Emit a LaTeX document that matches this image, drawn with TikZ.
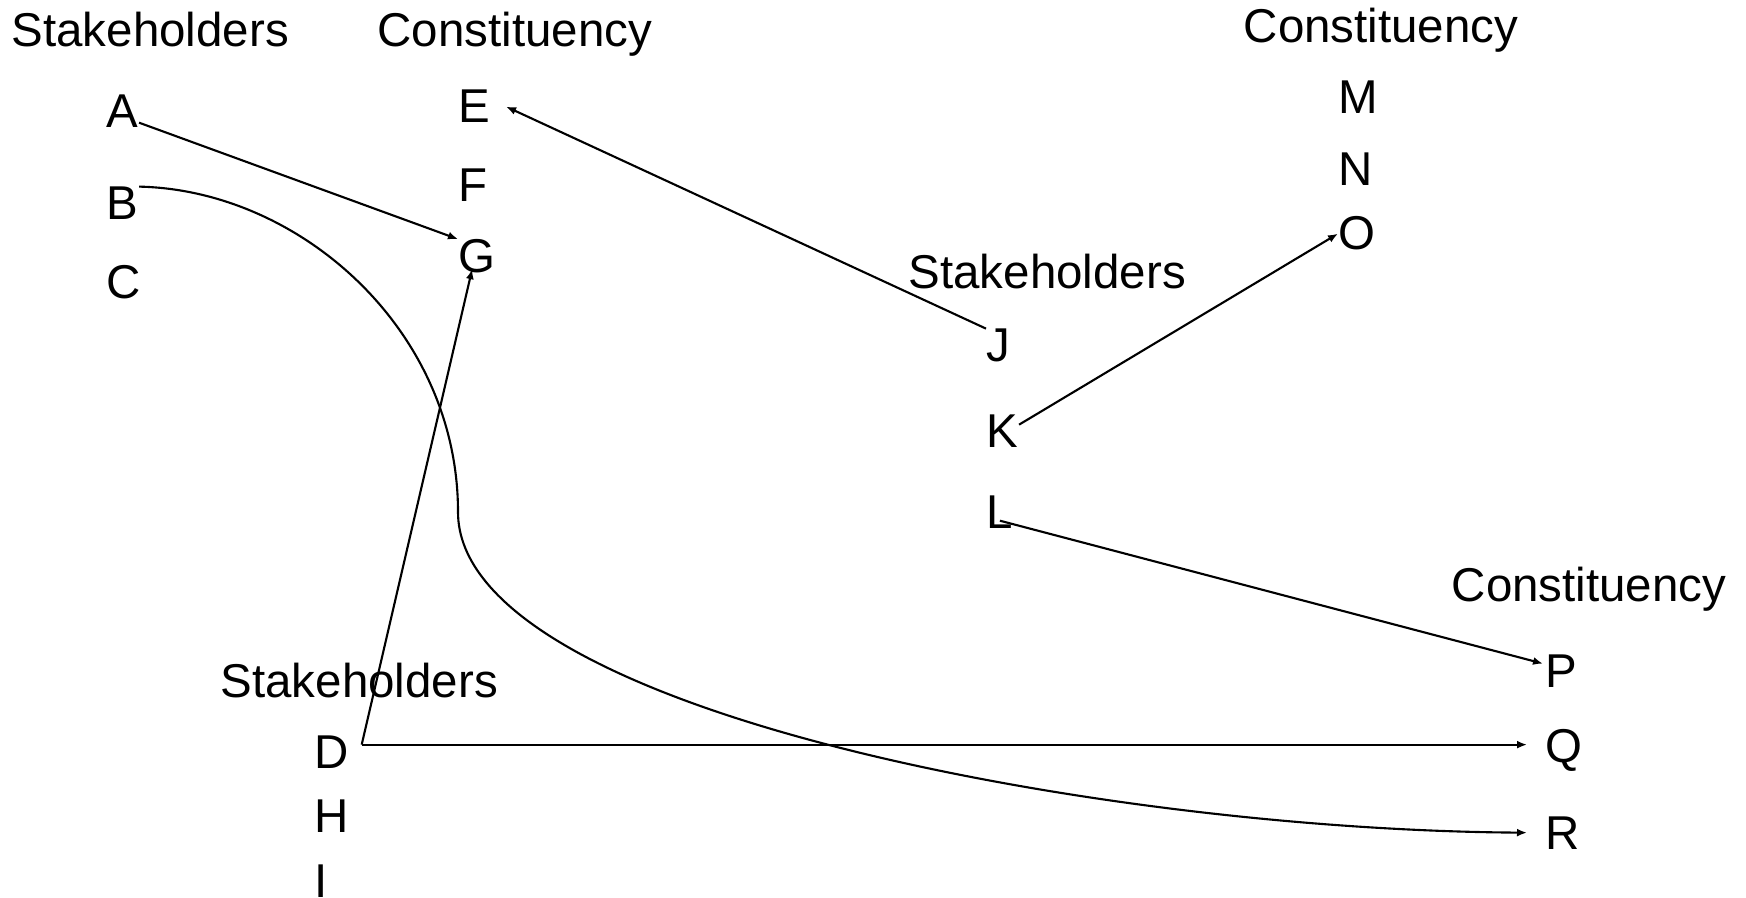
\documentclass[tikz,border=0pt]{standalone}
\usepackage{fontspec}
\setmainfont{Liberation Sans}
\usetikzlibrary{arrows.meta}

\begin{document}
\begin{tikzpicture}[x=0.01cm,y=-0.01cm,
  lbl/.style={anchor=base west,inner sep=0pt,font=\fontsize{13.5}{16}\selectfont},
  link/.style={line width=0.6pt,-{Latex[length=0.1cm,width=0.08cm]}}]
\useasboundingbox (0,0) rectangle (1746,898);
\node[lbl] (S1) at (11,47) {Stakeholders};
\node[lbl] (C1) at (377,47) {Constituency};
\node[lbl] (A) at (106,128) {A};
\node[lbl] (B) at (106,220) {B};
\node[lbl] (C) at (106,299) {C};
\node[lbl] (E) at (458,123) {E};
\node[lbl] (F) at (458,202) {F};
\node[lbl] (G) at (458,273) {G};
\node[lbl] (S2) at (908,289) {Stakeholders};
\node[lbl] (J) at (986,362) {J};
\node[lbl] (K) at (986,448) {K};
\node[lbl] (L) at (986,529) {L};
\node[lbl] (C2) at (1243,43) {Constituency};
\node[lbl] (M) at (1338,114) {M};
\node[lbl] (N) at (1338,186) {N};
\node[lbl] (O) at (1338,250) {O};
\node[lbl] (S3) at (220,698) {Stakeholders};
\node[lbl] (D) at (314,768) {D};
\node[lbl] (H) at (314,833) {H};
\node[lbl] (I) at (314,897) {I};
\node[lbl] (C3) at (1451,602) {Constituency};
\node[lbl] (P) at (1545,688) {P};
\node[lbl] (Q) at (1545,763) {Q};
\node[lbl] (R) at (1545,849) {R};
\coordinate (bend) at (458,512);
\coordinate (Dout) at ([xshift=0.12cm,yshift=-0.1cm]D.north east);
\draw[link] ([yshift=0.06cm]A.south east) -- (G.north west);
\draw[link] (B.north east) .. controls (300,190) and (458,330) .. (bend)
  .. controls (458,710) and (1100,830) .. ([xshift=-0.18cm]R.west);
\draw[link] (J.north west) -- ([xshift=0.15cm]E.east);
\draw[link] ([yshift=0.07cm]K.east) -- (O.west);
\draw[link] ([yshift=0.09cm]L.south) -- ([xshift=-0.02cm,yshift=-0.09cm]P.north west);
\draw[link] (Dout) -- ([xshift=-0.05cm,yshift=0.05cm]G.south);
\draw[link] (Dout) -- ([xshift=-0.18cm]Q.west |- Dout);
\end{tikzpicture}
\end{document}
